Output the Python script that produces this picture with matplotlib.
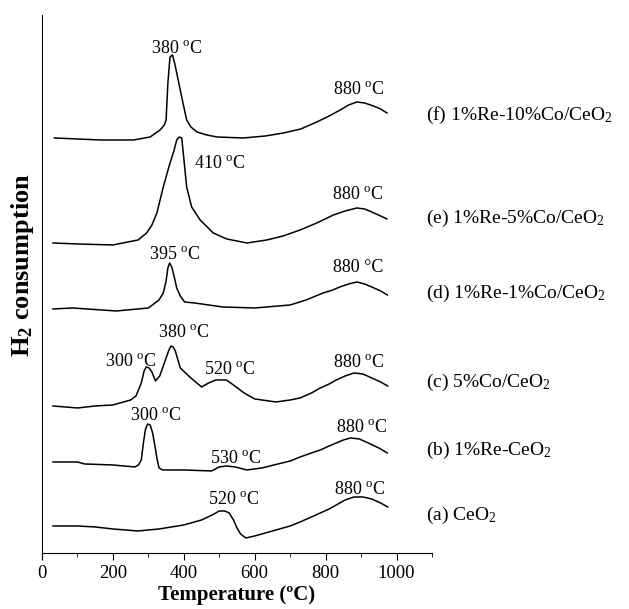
import matplotlib
matplotlib.use('Agg')
import matplotlib.pyplot as plt
from matplotlib.ticker import MultipleLocator

plt.rcParams['font.family'] = ['Liberation Serif', 'DejaVu Serif']
plt.rcParams['mathtext.fontset'] = 'custom'
plt.rcParams['mathtext.rm'] = 'Liberation Serif'
plt.rcParams['mathtext.it'] = 'Liberation Serif:italic'
plt.rcParams['mathtext.bf'] = 'Liberation Serif:bold'

# (a) CeO2
t_a = [31, 100, 150, 200, 270, 330, 400, 450, 480, 500, 515, 528, 540, 550, 560, 575, 600, 650, 700, 728,
       760, 785, 810, 830, 855, 880, 905, 930, 955, 975]
h_a = [27, 27, 26, 24, 22, 24, 28, 33, 38, 42, 42, 40, 33, 25, 19, 15, 17, 22, 27, 31,
       36, 40, 44, 48, 53, 56, 56, 54, 50, 46]
# (b) 1%Re-CeO2
t_b = [31, 100, 120, 200, 262, 272, 280, 286, 292, 298, 305, 312, 318, 324, 330, 340, 400, 478, 500, 521,
       545, 578, 620, 700, 728, 760, 785, 810, 830, 850, 870, 895, 920, 950, 974]
h_b = [91, 91, 89, 88, 86, 88, 93, 110, 124, 129, 128, 120, 108, 95, 85, 83, 83, 82, 86, 87,
       86, 83, 85, 92, 96, 100, 103, 107, 110, 113, 115, 114, 110, 105, 100]
# (c) 5%Co/CeO2
t_c = [31, 100, 150, 200, 250, 265, 280, 288, 294, 302, 310, 320, 332, 342, 350, 358, 364, 370, 376, 390,
       420, 450, 470, 490, 520, 540, 570, 600, 660, 700, 728, 760, 785, 810, 830, 855, 880, 905, 930, 955, 975]
h_c = [147, 145, 147, 148, 153, 157, 170, 182, 186, 185, 181, 172, 177, 187, 195, 203, 207, 206, 202, 185,
       175, 166, 170, 173, 173, 168, 160, 154, 151, 153, 155, 160, 165, 169, 173, 177, 180, 179, 175, 171, 167]
# (d) 1%Re-1%Co/CeO2
t_d = [31, 85, 210, 300, 330, 342, 350, 355, 360, 366, 373, 380, 390, 402, 430, 510, 600, 700, 745, 793,
       820, 840, 865, 888, 910, 930, 955, 974]
h_d = [244, 245, 242, 245, 253, 260, 272, 285, 290, 286, 276, 265, 257, 251, 250, 246, 245, 248, 253, 260,
       263, 266, 269, 271, 269, 266, 262, 258]
# (e) 1%Re-5%Co/CeO2
t_e = [31, 100, 200, 271, 295, 310, 324, 342, 361, 372, 380, 387, 394, 399, 404, 408, 422, 446, 483, 521,
       578, 634, 680, 728, 775, 822, 855, 888, 910, 930, 955, 973]
h_e = [310, 309, 308, 313, 320, 328, 340, 366, 390, 402, 413, 416, 415, 398, 380, 366, 346, 333, 320, 314,
       310, 313, 317, 323, 330, 338, 342, 345, 344, 341, 337, 334]
# (f) 1%Re-10%Co/CeO2
t_f = [35, 164, 258, 305, 333, 345, 350, 355, 361, 368, 374, 380, 394, 408, 420, 437, 465, 493, 568, 630,
       681, 730, 775, 810, 841, 865, 888, 910, 935, 955, 973]
h_f = [415, 413, 413, 416, 423, 428, 433, 470, 496, 498, 490, 480, 456, 433, 426, 421, 418, 416, 415, 417,
       420, 424, 431, 437, 443, 448, 451, 450, 447, 444, 440]

curves = [(t_a, h_a), (t_b, h_b), (t_c, h_c), (t_d, h_d), (t_e, h_e), (t_f, h_f)]

names = [r'(a) CeO$_2$', r'(b) 1%Re-CeO$_2$', r'(c) 5%Co/CeO$_2$',
         r'(d) 1%Re-1%Co/CeO$_2$', r'(e) 1%Re-5%Co/CeO$_2$', r'(f) 1%Re-10%Co/CeO$_2$']
name_y = [38, 103, 171, 260, 335, 438]

deg = r' $^{\rm o}$C'
peak_text = ['380' + deg, '880' + deg, '410' + deg, '880' + deg, '395' + deg, '880 °C',
             '380' + deg, '300' + deg, '520' + deg, '880' + deg,
             '300' + deg, '530' + deg, '880' + deg, '520' + deg, '880' + deg]
peak_x = [380, 892, 502, 890, 373, 892, 400, 249, 529, 893, 322, 545, 902, 541, 897]
peak_y = [500, 459, 385, 354, 294, 281, 216, 187, 179, 186, 133, 90, 121, 49, 59]

fig = plt.figure(figsize=(6.29, 6.09), dpi=100)
ax = fig.add_axes([0.0668, 0.092, 0.62, 0.8834])

for t, h in curves:
    ax.plot(t, h, color='black', lw=1.1)

for s, x, y in zip(peak_text, peak_x, peak_y):
    ax.text(x, y, s, ha='center', va='baseline', fontsize=13)

for s, y in zip(names, name_y):
    ax.text(1084, y, s, ha='left', va='center', fontsize=14, clip_on=False)

ax.set_xlim(0, 1100)
ax.set_ylim(0, 538)
ax.spines['top'].set_visible(False)
ax.spines['right'].set_visible(False)
ax.set_yticks([])
ax.xaxis.set_major_locator(MultipleLocator(200))
ax.xaxis.set_minor_locator(MultipleLocator(100))
ax.tick_params(axis='x', which='major', direction='out', length=5, labelsize=13.5)
ax.tick_params(axis='x', which='minor', direction='out', length=3)
ax.set_xlabel('Temperature (ºC)', fontsize=15, fontweight='bold', labelpad=2)
ax.set_ylabel(r'$\mathbf{H_2}$ consumption', fontsize=19, fontweight='bold')
ax.yaxis.set_label_coords(-0.015, 0.535)

plt.savefig('out.png', dpi=100)
